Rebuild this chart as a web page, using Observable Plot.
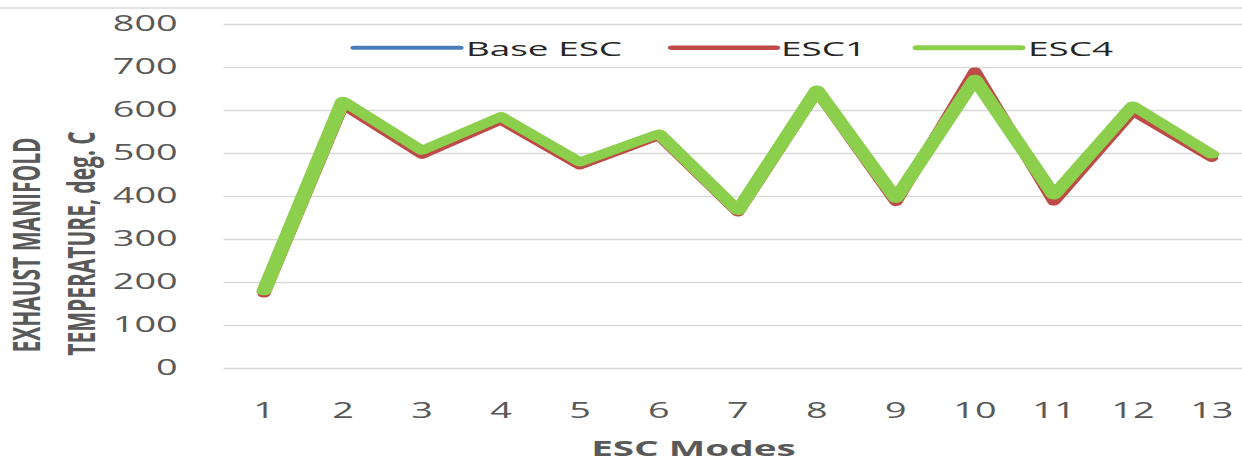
<!DOCTYPE html>
<html><head><meta charset="utf-8">
<script src="https://cdn.jsdelivr.net/npm/d3@7"></script>
<script src="https://cdn.jsdelivr.net/npm/@observablehq/plot@0.6"></script>
<style>
html,body{margin:0;padding:0;background:#fff;overflow:hidden;width:1242px;height:461px;}
#chart{position:relative;width:1242px;height:461px;overflow:hidden;}
#chart svg{transform:scaleX(1.8);transform-origin:0 0;position:absolute;left:0;top:0;}
</style></head><body><div id="chart"></div>
<script>
const modes = [1,2,3,4,5,6,7,8,9,10,11,12,13];
const baseESC = [175, 615, 498, 578, 473, 541, 363, 645, 388, 688, 390, 600, 490];
const esc1    = [173, 612, 496, 576, 471, 540, 362, 644, 386, 692, 387, 597, 489];
const esc4    = [180, 622, 507, 586, 480, 546, 367, 648, 395, 673, 403, 611, 498];
const seriesNames = ["Base ESC", "ESC1", "ESC4"];
const seriesColors = ["#4A7EBB", "#BE4B48", "#8CCF4D"];
const yTicks = [0,100,200,300,400,500,600,700,800];
const xTitle = "ESC Modes";
const yTitleLines = ["EXHAUST MANIFOLD", "TEMPERATURE, deg. C"];

const seriesValues = [baseESC, esc1, esc4];
const rows = [];
seriesNames.forEach((s, i) => modes.forEach((m, j) => rows.push({mode: m, temp: seriesValues[i][j], series: s})));

const SX = 1.8;            // horizontal stretch of the reference picture
const W = 695, H = 461;
const widths = {"Base ESC": 6, "ESC1": 7, "ESC4": 8.5};

const chart = Plot.plot({
  width: W, height: H,
  marginLeft: 124.2, marginRight: 0.3, marginTop: 24, marginBottom: 93,
  style: {fontFamily: "'Open Sans', sans-serif", background: "transparent", overflow: "visible"},
  x: {domain: [0.5, 13.5], axis: null},
  y: {domain: [0, 800], axis: null},
  color: {domain: seriesNames, range: seriesColors},
  marks: [
    Plot.gridY(yTicks, {stroke: "#d9d9d9", strokeOpacity: 1, strokeWidth: 1.7}),
    Plot.axisY(yTicks, {tickSize: 0, tickPadding: 26, fontSize: 21, fill: "#595959", label: null}),
    Plot.axisX(modes, {tickSize: 0, tickPadding: 35, fontSize: 21, fill: "#595959", label: null}),
    ...seriesNames.map(s => Plot.line(rows.filter(d => d.series === s), {
      x: "mode", y: "temp", stroke: "series", strokeWidth: widths[s],
      strokeLinejoin: "round", strokeLinecap: "round"
    }))
  ]
});
document.getElementById("chart").appendChild(chart);

const svg = d3.select(chart);
// top border line
svg.append("line").attr("x1", 0).attr("x2", W).attr("y1", 8).attr("y2", 8)
  .attr("stroke", "#e3e3e3").attr("stroke-width", 2);
// x title
svg.append("text").attr("x", 693.5 / SX).attr("y", 456).attr("text-anchor", "middle")
  .attr("font-family", "'Open Sans', sans-serif").attr("font-weight", "bold")
  .attr("font-size", 21.5).attr("fill", "#595959").text(xTitle);
// y title (two rotated lines)
const yTitlePos = [[26 / SX, 245], [81 / SX, 243.5]];
yTitleLines.forEach((t, i) => {
  svg.append("text").attr("transform", `translate(${yTitlePos[i][0]},${yTitlePos[i][1]}) rotate(-90)`)
    .attr("dy", "0.36em").attr("text-anchor", "middle")
    .attr("font-family", "'Open Sans', sans-serif").attr("font-weight", "bold")
    .attr("font-size", 21).attr("fill", "#595959").text(t);
});
// legend
const legendX = [[354, 460, 466], [672, 776, 781], [917, 1021, 1028]];
const legendLW = [4, 4.5, 5];
seriesNames.forEach((s, i) => {
  const [a, b, t] = legendX[i];
  svg.append("line").attr("x1", a / SX).attr("x2", b / SX).attr("y1", 47.8).attr("y2", 47.8)
    .attr("stroke", seriesColors[i]).attr("stroke-width", legendLW[i]).attr("stroke-linecap", "round");
  svg.append("text").attr("x", t / SX).attr("y", 55.7).attr("text-anchor", "start")
    .attr("font-family", "'Open Sans', sans-serif").attr("font-size", 20.5).attr("fill", "#262626").text(s);
});
</script></body></html>
